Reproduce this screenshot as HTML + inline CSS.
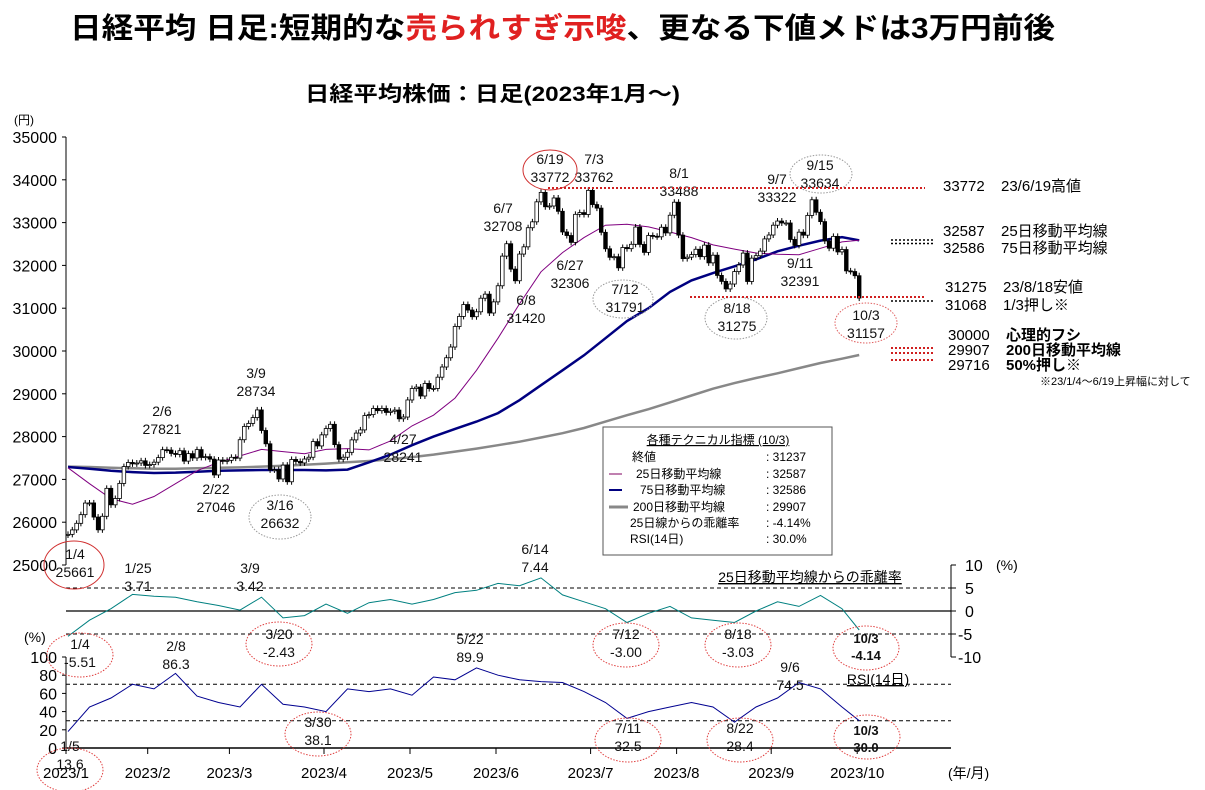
<!DOCTYPE html>
<html><head><meta charset="utf-8">
<style>
body{margin:0;background:#fff;}
svg{display:block;font-family:"Liberation Sans","Noto Sans CJK JP",sans-serif;}
</style></head>
<body>
<svg id="chart" width="1205" height="790" viewBox="0 0 1205 790" xmlns="http://www.w3.org/2000/svg">
<text x="70" y="38" font-size="29" font-weight="bold" fill="#000" textLength="985" lengthAdjust="spacingAndGlyphs">日経平均 日足:短期的な<tspan fill="#e02020">売られすぎ示唆</tspan>、更なる下値メドは3万円前後</text>
<text x="305" y="101" font-size="21" font-weight="bold" textLength="375" lengthAdjust="spacingAndGlyphs">日経平均株価：日足(2023年1月～)</text>
<text x="14" y="124" font-size="12">(円)</text>
<g id="main"></g>
<g id="dev"></g>
<g id="rsi"></g>
<g id="annot" font-size="14" fill="#111"></g>
<!-- legend box -->
<g>
<rect x="603" y="427" width="229" height="128" fill="#fff" stroke="#555" stroke-width="1"/>
<text x="718" y="444" text-anchor="middle" font-size="12" text-decoration="underline">各種テクニカル指標 (10/3)</text>
<text x="632" y="461" font-size="12">終値</text><text x="766" y="461" font-size="12">: 31237</text>
<line x1="609" y1="474" x2="622" y2="474" stroke="#800060" stroke-width="1"/>
<text x="636" y="478" font-size="12">25日移動平均線</text><text x="766" y="478" font-size="12">: 32587</text>
<line x1="609" y1="490" x2="622" y2="490" stroke="#000080" stroke-width="2"/>
<text x="640" y="494" font-size="12">75日移動平均線</text><text x="766" y="494" font-size="12">: 32586</text>
<line x1="609" y1="507" x2="628" y2="507" stroke="#888" stroke-width="3"/>
<text x="633" y="511" font-size="12">200日移動平均線</text><text x="766" y="511" font-size="12">: 29907</text>
<text x="630" y="527" font-size="12">25日線からの乖離率</text><text x="766" y="527" font-size="12">: -4.14%</text>
<text x="630" y="543" font-size="12">RSI(14日)</text><text x="766" y="543" font-size="12">: 30.0%</text>
</g>
<!-- right annotations -->
<g font-size="15">
<text x="943" y="191">33772</text><text x="1001" y="191">23/6/19高値</text>
<text x="943" y="236">32587</text><text x="1001" y="236">25日移動平均線</text>
<text x="943" y="253">32586</text><text x="1001" y="253">75日移動平均線</text>
<text x="945" y="292">31275</text><text x="1003" y="292">23/8/18安値</text>
<text x="945" y="310">31068</text><text x="1003" y="310">1/3押し※</text>
<text x="948" y="340">30000</text><text x="1006" y="340" font-weight="bold">心理的フシ</text>
<text x="948" y="355">29907</text><text x="1006" y="355" font-weight="bold">200日移動平均線</text>
<text x="948" y="370">29716</text><text x="1006" y="370" font-weight="bold">50%押し※</text>
<text x="1040" y="385" font-size="11">※23/1/4～6/19上昇幅に対して</text>
</g>
<g stroke-dasharray="2,2" stroke-width="2">
<line x1="548" y1="188" x2="925" y2="188" stroke="#d02020"/>
<line x1="690" y1="297" x2="925" y2="297" stroke="#d02020"/>
<line x1="891" y1="240" x2="933" y2="240" stroke="#000" stroke-width="1.5"/>
<line x1="891" y1="243.5" x2="933" y2="243.5" stroke="#000" stroke-width="1.5"/>
<line x1="891" y1="301" x2="933" y2="301" stroke="#000" stroke-width="1.5"/>
<line x1="891" y1="348" x2="933" y2="348" stroke="#d02020"/>
<line x1="891" y1="353" x2="933" y2="353" stroke="#d02020"/>
<line x1="891" y1="360" x2="933" y2="360" stroke="#d02020"/>
</g>
<script>
// ---- data ----
const closes = [25716,25820,25974,26176,26447,26450,26120,25822,26138,26791,26406,26554,26907,27299,27396,27363,27383,27434,27327,
27346,27402,27509,27694,27685,27606,27584,27670,27427,27602,27501,27696,27513,27531,27473,27104,27453,27423,27445,
27516,27498,27927,28237,28309,28444,28623,28143,27832,27222,27229,27010,27333,26945,27466,27419,27385,27476,27518,27883,27782,28041,
28188,28287,27813,27472,27518,27633,27923,28082,28156,28493,28514,28658,28606,28657,28564,28593,28620,28416,28457,28856,
29123,29157,28949,29242,29122,29126,29388,29626,29842,30093,30573,30808,31086,30957,30801,30916,31233,31328,30888,31148,
31524,32217,32506,31913,31641,32265,32434,32880,33018,33485,33706,33370,33388,33575,33264,32781,32698,32538,33193,33234,33189,33753,
33422,33338,32773,32388,32189,32203,31943,32419,32391,32493,32896,32490,32304,32700,32682,32668,32891,32759,33172,33476,
32707,32159,32192,32254,32377,32204,32473,32059,32238,31766,31626,31450,31565,31856,32010,32287,31624,32169,32227,32333,32619,32710,
32939,33036,32991,32991,32606,32467,32776,32706,33168,33533,33242,33023,32571,32402,32678,32315,32371,31872,31857,31759,31237];
const firstOpen = 25700;
const ma25 = [27270,26900,26550,26420,26600,26900,27200,27400,27550,27700,27650,27600,27700,27720,27690,27900,28250,28500,28900,29550,30300,31100,31850,32300,32650,32940,32960,32900,32780,32650,32480,32380,32290,32260,32250,32400,32550,32587];
const ma75 = [27290,27250,27200,27170,27150,27160,27180,27200,27210,27220,27220,27220,27210,27230,27400,27580,27800,28000,28180,28350,28550,28850,29200,29550,29900,30300,30700,31000,31380,31650,31820,31980,32140,32330,32460,32580,32660,32586];
const ma200 = [27300,27290,27270,27260,27250,27250,27260,27270,27280,27300,27320,27340,27370,27400,27430,27470,27520,27580,27650,27720,27800,27880,27980,28080,28200,28350,28500,28640,28800,28960,29120,29250,29370,29480,29600,29720,29820,29907];
const devPct = [-5.5,-2.0,0.5,3.6,3.2,3.0,2.0,1.2,0.2,3.0,-1.5,-1.0,1.5,-0.5,1.8,2.5,1.5,2.5,4.0,4.5,6.0,5.5,7.2,3.5,2.0,0.5,-2.5,-0.5,1.0,-1.5,-2.0,-2.5,0.0,2.0,1.0,3.4,0.5,-4.14];
const rsi = [18,45,55,70,65,82,57,50,45,70,48,45,40,65,62,65,58,78,75,88,80,75,73,72,62,50,32.5,40,45,50,45,28.4,45,55,72,65,45,30];
const monthLabels = ["2023/1","2023/2","2023/3","2023/4","2023/5","2023/6","2023/7","2023/8","2023/9","2023/10"];
const monthStart = [0,19,38,60,80,100,122,142,164,184];
const priceTicks = [35000,34000,33000,32000,31000,30000,29000,28000,27000,26000,25000];
const devTicks = [10,5,0,-5,-10];
const rsiTicks = [100,80,60,40,20,0];
const SAMPLE = 5;

// ---- axes ----
const NS="http://www.w3.org/2000/svg";
const X0=68, DX=4.3;
const xi = i => X0 + i*DX;
const yP = v => 137 + (35000 - v)*0.0428;
const yD = v => 611 - v*4.6;
const yR = v => 748 - v*0.91;
function mk(tag, attrs, parent){const e=document.createElementNS(NS,tag);for(const k in attrs)e.setAttribute(k,attrs[k]);parent.appendChild(e);return e;}
const gM=document.getElementById('main'), gD=document.getElementById('dev'), gR=document.getElementById('rsi');

let ax=mk('line',{x1:66,y1:137,x2:66,y2:565,stroke:'#000'},gM);


priceTicks.forEach(v=>{
  mk('line',{x1:62,y1:yP(v),x2:66,y2:yP(v),stroke:'#000'},gM);
  const t=mk('text',{x:57,y:yP(v)+6,'text-anchor':'end','font-size':16},gM);t.textContent=v;
  
  
});

function poly(arr, yf, attrs, parent, name){
  const pts=arr.map((v,k)=>xi(Math.min(k*SAMPLE,closes.length-1)).toFixed(1)+','+yf(v).toFixed(1)).join(' ');
  const p=mk('polyline',Object.assign({points:pts,fill:'none'},attrs),parent);
  
  
  return p;
}
poly(ma200,yP,{stroke:'#888',"stroke-width":2.5},gM,'ma200-line');
poly(ma75,yP,{stroke:'#000080',"stroke-width":2.5},gM,'ma75-line');
poly(ma25,yP,{stroke:'#800080',"stroke-width":1},gM,'ma25-line');

closes.forEach((c,i)=>{
  const o = i===0 ? firstOpen : closes[i-1];
  const x=xi(i), up=c>=o;
  const top=yP(Math.max(o,c)), bot=yP(Math.min(o,c));
  const w=mk('line',{x1:x,y1:top-3,x2:x,y2:bot+3,stroke:'#000','stroke-width':1},gM);
  
  
  const r=mk('rect',{x:x-1.8,y:top,width:3.6,height:Math.max(1,bot-top),fill:up?'#fff':'#000',stroke:'#000','stroke-width':0.8},gM);
  
  
});

[5,-5].forEach(v=>mk('line',{x1:66,y1:yD(v),x2:951,y2:yD(v),stroke:'#000','stroke-dasharray':'4,3'},gD));
let zl=mk('line',{x1:66,y1:yD(0),x2:951,y2:yD(0),stroke:'#000','stroke-width':1.2},gD);


mk('line',{x1:951,y1:yD(10),x2:951,y2:yD(-10),stroke:'#000'},gD);
devTicks.forEach(v=>{
  mk('line',{x1:951,y1:yD(v),x2:956,y2:yD(v),stroke:'#000'},gD);
  const t=mk('text',{x:v<0?958:965,y:yD(v)+6,'font-size':16},gD);t.textContent=v;
  
  
});
poly(devPct,yD,{stroke:'#008080','stroke-width':1},gD,'deviation-line');

[70,30].forEach(v=>mk('line',{x1:66,y1:yR(v),x2:951,y2:yR(v),stroke:'#000','stroke-dasharray':'4,3'},gR));
let rb=mk('line',{x1:66,y1:yR(0),x2:951,y2:yR(0),stroke:'#000','stroke-width':1.5},gR);


mk('line',{x1:66,y1:yR(100),x2:66,y2:yR(0),stroke:'#000'},gR);
rsiTicks.forEach(v=>{
  mk('line',{x1:62,y1:yR(v),x2:66,y2:yR(v),stroke:'#000'},gR);
  const t=mk('text',{x:57,y:yR(v)+6,'text-anchor':'end','font-size':16},gR);t.textContent=v;
  
  
});
poly(rsi,yR,{stroke:'#000090','stroke-width':1},gR,'rsi-line');
monthLabels.forEach((m,k)=>{
  const x=xi(monthStart[k])-2;
  mk('line',{x1:x,y1:748,x2:x,y2:754,stroke:'#000'},gR);
  const t=mk('text',{x:x,y:778,'text-anchor':'middle','font-size':15},gR);t.textContent=m;
  
  
});

const gA=document.getElementById('annot');
function lab(x,y,txt,bold,size){const t=mk('text',{x:x,y:y,'text-anchor':'middle','font-size':size||14},gA);if(bold)t.setAttribute('font-weight','bold');t.textContent=txt;
  
  }
function ell(cx,cy,rx,ry,col,dot){const e=mk('ellipse',{cx:cx,cy:cy,rx:rx,ry:ry,fill:'none',stroke:col,'stroke-width':1,'stroke-dasharray':dot?'1.5,1.5':'none'},gA);
  
  }
const pairs=[[75,559,'1/4','25661'],[162,416,'2/6','27821'],[256,378,'3/9','28734'],[216,494,'2/22','27046'],[280,510,'3/16','26632'],
[403,444,'4/27','28241'],[503,213,'6/7','32708'],[526,305,'6/8','31420'],[570,270,'6/27','32306'],[550,164,'6/19','33772'],[594,164,'7/3','33762'],
[679,178,'8/1','33488'],[625,294,'7/12','31791'],[737,313,'8/18','31275'],[777,184,'9/7','33322'],[820,170,'9/15','33634'],[800,268,'9/11','32391'],[866,320,'10/3','31157'],
[138,573,'1/25','3.71'],[250,573,'3/9','3.42'],[535,554,'6/14','7.44'],
[80,649,'1/4','-5.51'],[279,639,'3/20','-2.43'],[626,639,'7/12','-3.00'],[738,639,'8/18','-3.03'],
[176,651,'2/8','86.3'],[470,644,'5/22','89.9'],[790,672,'9/6','74.5'],[318,727,'3/30','38.1'],[628,733,'7/11','32.5'],[740,733,'8/22','28.4'],[70,751,'1/5','13.6']];
pairs.forEach(p=>{lab(p[0],p[1],p[2]);lab(p[0],p[1]+18,p[3]);});
lab(866,643,'10/3',true,13);lab(866,660,'-4.14',true,13);
lab(866,735,'10/3',true,13);lab(866,752,'30.0',true,13);
ell(74,565,30,24,'#d03030',false);ell(550,170,27,20,'#d03030',false);
ell(280,517,31,22,'#999',true);ell(623,299,30,19,'#999',true);ell(736,318,31,21,'#999',true);ell(821,174,31,19,'#999',true);ell(866,323,31,20,'#e06060',true);
[[80,655],[279,644],[626,645],[738,645],[866,648],[318,734],[628,740],[740,740],[867,737],[70,770]].forEach(c=>ell(c[0],c[1],33,22,'#e04040',true));
</script>
<text x="810" y="582" text-anchor="middle" font-size="14" text-decoration="underline">25日移動平均線からの乖離率</text>
<text x="996" y="570" font-size="14">(%)</text>
<text x="24" y="642" font-size="14">(%)</text>
<text x="878" y="684" text-anchor="middle" font-size="14" text-decoration="underline">RSI(14日)</text>
<text x="948" y="778" font-size="14">(年/月)</text>
</svg>
</body></html>
